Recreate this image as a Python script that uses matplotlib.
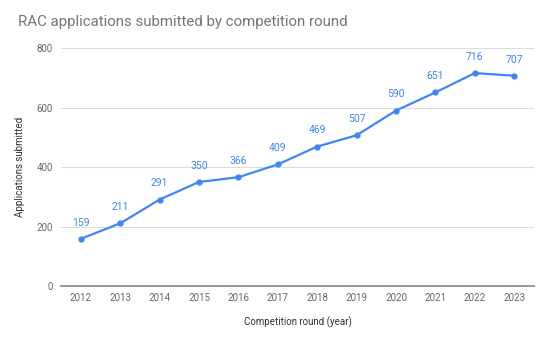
import matplotlib
matplotlib.use("Agg")
import matplotlib.pyplot as plt

years = ["2012", "2013", "2014", "2015", "2016", "2017",
         "2018", "2019", "2020", "2021", "2022", "2023"]
applications = [159, 211, 291, 350, 366, 409, 469, 507, 590, 651, 716, 707]
y_ticks = [0, 200, 400, 600, 800]

plt.rcParams["font.family"] = ["Roboto", "DejaVu Sans"]

blue = "#4285F4"
fig = plt.figure(figsize=(5.51, 3.41), dpi=100)
ax = fig.add_axes([0.111, 0.161, 0.858, 0.698])

x = list(range(len(years)))
ax.plot(x, applications, color=blue, linewidth=1.6, marker="o",
        markersize=3.5, zorder=3)
for xi, v in zip(x, applications):
    ax.annotate(str(v), (xi, v), xytext=(0, 8), textcoords="offset points",
                ha="center", va="bottom", color=blue, fontsize=7.5)

ax.set_xlim(-0.5, len(years) - 0.5)
ax.set_ylim(0, 800)
ax.set_xticks(x)
ax.set_xticklabels(years)
ax.set_yticks(y_ticks)
ax.tick_params(length=0, labelsize=7, colors="#666666")
ax.tick_params(axis="x", pad=5)
ax.tick_params(axis="y", pad=6)

ax.grid(axis="y", color="#dddddd", linewidth=0.8)
ax.set_axisbelow(True)
for side in ["top", "right", "left"]:
    ax.spines[side].set_visible(False)
ax.spines["bottom"].set_color("#999999")
ax.spines["bottom"].set_linewidth(1.4)

ax.set_xlabel("Competition round (year)", fontsize=7, color="#333333", labelpad=10)
ax.set_ylabel("Applications submitted", fontsize=7, color="#333333", labelpad=8)

fig.text(0.033, 0.935, "RAC applications submitted by competition round",
         fontsize=10.8, color="#757575", ha="left", va="center")

fig.savefig("out.png", dpi=100)
